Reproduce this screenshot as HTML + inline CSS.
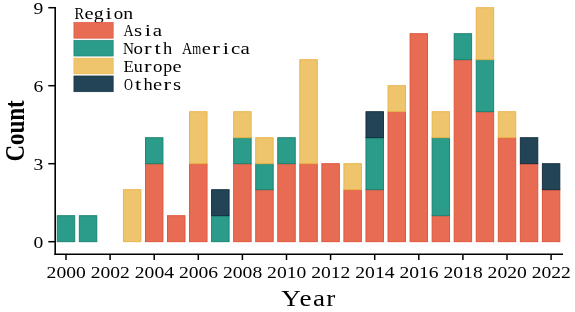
<!DOCTYPE html>
<html><head><meta charset="utf-8"><style>
html,body{margin:0;padding:0;background:#fff;width:575px;height:312px;overflow:hidden}
svg{display:block;will-change:transform}
.tk{font-family:"Liberation Serif",serif;font-size:17.2px;fill:#000}
.xl{font-family:"Liberation Serif",serif;font-size:24px;fill:#000}
.yl{font-family:"Liberation Serif",serif;font-size:23px;font-weight:bold;fill:#000}
.lg{font-family:"Liberation Serif",serif;font-size:16.2px;fill:#000}
</style></head><body>
<svg width="575" height="312" viewBox="0 0 575 312">
<rect x="57.25" y="215.70" width="17.50" height="26.00" fill="#2B9B8A" stroke="#14806F" stroke-width="0.9"/>
<rect x="79.30" y="215.70" width="17.50" height="26.00" fill="#2B9B8A" stroke="#14806F" stroke-width="0.9"/>
<rect x="123.40" y="189.70" width="17.50" height="52.00" fill="#EEC56C" stroke="#EAB245" stroke-width="0.9"/>
<rect x="145.45" y="163.70" width="17.50" height="78.00" fill="#E86C54" stroke="#DE5034" stroke-width="0.9"/>
<rect x="145.45" y="137.70" width="17.50" height="26.00" fill="#2B9B8A" stroke="#14806F" stroke-width="0.9"/>
<rect x="167.50" y="215.70" width="17.50" height="26.00" fill="#E86C54" stroke="#DE5034" stroke-width="0.9"/>
<rect x="189.55" y="163.70" width="17.50" height="78.00" fill="#E86C54" stroke="#DE5034" stroke-width="0.9"/>
<rect x="189.55" y="111.70" width="17.50" height="52.00" fill="#EEC56C" stroke="#EAB245" stroke-width="0.9"/>
<rect x="211.60" y="215.70" width="17.50" height="26.00" fill="#2B9B8A" stroke="#14806F" stroke-width="0.9"/>
<rect x="211.60" y="189.70" width="17.50" height="26.00" fill="#234457" stroke="#0F2A3A" stroke-width="0.9"/>
<rect x="233.65" y="163.70" width="17.50" height="78.00" fill="#E86C54" stroke="#DE5034" stroke-width="0.9"/>
<rect x="233.65" y="137.70" width="17.50" height="26.00" fill="#2B9B8A" stroke="#14806F" stroke-width="0.9"/>
<rect x="233.65" y="111.70" width="17.50" height="26.00" fill="#EEC56C" stroke="#EAB245" stroke-width="0.9"/>
<rect x="255.70" y="189.70" width="17.50" height="52.00" fill="#E86C54" stroke="#DE5034" stroke-width="0.9"/>
<rect x="255.70" y="163.70" width="17.50" height="26.00" fill="#2B9B8A" stroke="#14806F" stroke-width="0.9"/>
<rect x="255.70" y="137.70" width="17.50" height="26.00" fill="#EEC56C" stroke="#EAB245" stroke-width="0.9"/>
<rect x="277.75" y="163.70" width="17.50" height="78.00" fill="#E86C54" stroke="#DE5034" stroke-width="0.9"/>
<rect x="277.75" y="137.70" width="17.50" height="26.00" fill="#2B9B8A" stroke="#14806F" stroke-width="0.9"/>
<rect x="299.80" y="163.70" width="17.50" height="78.00" fill="#E86C54" stroke="#DE5034" stroke-width="0.9"/>
<rect x="299.80" y="59.70" width="17.50" height="104.00" fill="#EEC56C" stroke="#EAB245" stroke-width="0.9"/>
<rect x="321.85" y="163.70" width="17.50" height="78.00" fill="#E86C54" stroke="#DE5034" stroke-width="0.9"/>
<rect x="343.90" y="189.70" width="17.50" height="52.00" fill="#E86C54" stroke="#DE5034" stroke-width="0.9"/>
<rect x="343.90" y="163.70" width="17.50" height="26.00" fill="#EEC56C" stroke="#EAB245" stroke-width="0.9"/>
<rect x="365.95" y="189.70" width="17.50" height="52.00" fill="#E86C54" stroke="#DE5034" stroke-width="0.9"/>
<rect x="365.95" y="137.70" width="17.50" height="52.00" fill="#2B9B8A" stroke="#14806F" stroke-width="0.9"/>
<rect x="365.95" y="111.70" width="17.50" height="26.00" fill="#234457" stroke="#0F2A3A" stroke-width="0.9"/>
<rect x="388.00" y="111.70" width="17.50" height="130.00" fill="#E86C54" stroke="#DE5034" stroke-width="0.9"/>
<rect x="388.00" y="85.70" width="17.50" height="26.00" fill="#EEC56C" stroke="#EAB245" stroke-width="0.9"/>
<rect x="410.05" y="33.70" width="17.50" height="208.00" fill="#E86C54" stroke="#DE5034" stroke-width="0.9"/>
<rect x="432.10" y="215.70" width="17.50" height="26.00" fill="#E86C54" stroke="#DE5034" stroke-width="0.9"/>
<rect x="432.10" y="137.70" width="17.50" height="78.00" fill="#2B9B8A" stroke="#14806F" stroke-width="0.9"/>
<rect x="432.10" y="111.70" width="17.50" height="26.00" fill="#EEC56C" stroke="#EAB245" stroke-width="0.9"/>
<rect x="454.15" y="59.70" width="17.50" height="182.00" fill="#E86C54" stroke="#DE5034" stroke-width="0.9"/>
<rect x="454.15" y="33.70" width="17.50" height="26.00" fill="#2B9B8A" stroke="#14806F" stroke-width="0.9"/>
<rect x="476.20" y="111.70" width="17.50" height="130.00" fill="#E86C54" stroke="#DE5034" stroke-width="0.9"/>
<rect x="476.20" y="59.70" width="17.50" height="52.00" fill="#2B9B8A" stroke="#14806F" stroke-width="0.9"/>
<rect x="476.20" y="7.70" width="17.50" height="52.00" fill="#EEC56C" stroke="#EAB245" stroke-width="0.9"/>
<rect x="498.25" y="137.70" width="17.50" height="104.00" fill="#E86C54" stroke="#DE5034" stroke-width="0.9"/>
<rect x="498.25" y="111.70" width="17.50" height="26.00" fill="#EEC56C" stroke="#EAB245" stroke-width="0.9"/>
<rect x="520.30" y="163.70" width="17.50" height="78.00" fill="#E86C54" stroke="#DE5034" stroke-width="0.9"/>
<rect x="520.30" y="137.70" width="17.50" height="26.00" fill="#234457" stroke="#0F2A3A" stroke-width="0.9"/>
<rect x="542.35" y="189.70" width="17.50" height="52.00" fill="#E86C54" stroke="#DE5034" stroke-width="0.9"/>
<rect x="542.35" y="163.70" width="17.50" height="26.00" fill="#234457" stroke="#0F2A3A" stroke-width="0.9"/>
<line x1="55.2" y1="7.0" x2="55.2" y2="254.95" stroke="#000" stroke-width="1.6"/>
<line x1="54.400000000000006" y1="254.2" x2="563" y2="254.2" stroke="#000" stroke-width="1.4"/>
<line x1="48.3" y1="241.70" x2="55.2" y2="241.70" stroke="#000" stroke-width="1.5"/>
<text x="0" y="0" class="tk" text-anchor="end" transform="translate(43.4 247.70) scale(1.14 1)">0</text>
<line x1="48.3" y1="163.70" x2="55.2" y2="163.70" stroke="#000" stroke-width="1.5"/>
<text x="0" y="0" class="tk" text-anchor="end" transform="translate(43.4 169.70) scale(1.14 1)">3</text>
<line x1="48.3" y1="85.70" x2="55.2" y2="85.70" stroke="#000" stroke-width="1.5"/>
<text x="0" y="0" class="tk" text-anchor="end" transform="translate(43.4 91.70) scale(1.14 1)">6</text>
<line x1="48.3" y1="7.70" x2="55.2" y2="7.70" stroke="#000" stroke-width="1.5"/>
<text x="0" y="0" class="tk" text-anchor="end" transform="translate(43.4 13.70) scale(1.14 1)">9</text>
<line x1="66.00" y1="254.2" x2="66.00" y2="260.0" stroke="#000" stroke-width="1.5"/>
<text x="0" y="0" class="tk" text-anchor="middle" transform="translate(66.20 277.6) scale(1.14 1)">2000</text>
<line x1="110.10" y1="254.2" x2="110.10" y2="260.0" stroke="#000" stroke-width="1.5"/>
<text x="0" y="0" class="tk" text-anchor="middle" transform="translate(110.30 277.6) scale(1.14 1)">2002</text>
<line x1="154.20" y1="254.2" x2="154.20" y2="260.0" stroke="#000" stroke-width="1.5"/>
<text x="0" y="0" class="tk" text-anchor="middle" transform="translate(154.40 277.6) scale(1.14 1)">2004</text>
<line x1="198.30" y1="254.2" x2="198.30" y2="260.0" stroke="#000" stroke-width="1.5"/>
<text x="0" y="0" class="tk" text-anchor="middle" transform="translate(198.50 277.6) scale(1.14 1)">2006</text>
<line x1="242.40" y1="254.2" x2="242.40" y2="260.0" stroke="#000" stroke-width="1.5"/>
<text x="0" y="0" class="tk" text-anchor="middle" transform="translate(242.60 277.6) scale(1.14 1)">2008</text>
<line x1="286.50" y1="254.2" x2="286.50" y2="260.0" stroke="#000" stroke-width="1.5"/>
<text x="0" y="0" class="tk" text-anchor="middle" transform="translate(286.70 277.6) scale(1.14 1)">2010</text>
<line x1="330.60" y1="254.2" x2="330.60" y2="260.0" stroke="#000" stroke-width="1.5"/>
<text x="0" y="0" class="tk" text-anchor="middle" transform="translate(330.80 277.6) scale(1.14 1)">2012</text>
<line x1="374.70" y1="254.2" x2="374.70" y2="260.0" stroke="#000" stroke-width="1.5"/>
<text x="0" y="0" class="tk" text-anchor="middle" transform="translate(374.90 277.6) scale(1.14 1)">2014</text>
<line x1="418.80" y1="254.2" x2="418.80" y2="260.0" stroke="#000" stroke-width="1.5"/>
<text x="0" y="0" class="tk" text-anchor="middle" transform="translate(419.00 277.6) scale(1.14 1)">2016</text>
<line x1="462.90" y1="254.2" x2="462.90" y2="260.0" stroke="#000" stroke-width="1.5"/>
<text x="0" y="0" class="tk" text-anchor="middle" transform="translate(463.10 277.6) scale(1.14 1)">2018</text>
<line x1="507.00" y1="254.2" x2="507.00" y2="260.0" stroke="#000" stroke-width="1.5"/>
<text x="0" y="0" class="tk" text-anchor="middle" transform="translate(507.20 277.6) scale(1.14 1)">2020</text>
<line x1="551.10" y1="254.2" x2="551.10" y2="260.0" stroke="#000" stroke-width="1.5"/>
<text x="0" y="0" class="tk" text-anchor="middle" transform="translate(551.30 277.6) scale(1.14 1)">2022</text>
<text x="309" y="306.4" class="xl" text-anchor="middle" letter-spacing="1.2" transform="translate(309 0) scale(1.13 1) translate(-309 0)">Year</text>
<text class="yl" text-anchor="middle" transform="translate(23.7 130.9) scale(1.15 1) rotate(-90)">Count</text>
<text class="lg" transform="translate(79.38 18.60) scale(0.892 1)" x="-5.62" y="0">R</text>
<text class="lg" transform="translate(89.12 18.60) scale(1.268 1)" x="-3.63" y="0">e</text>
<text class="lg" transform="translate(98.88 18.60) scale(1.226 1)" x="-4.24" y="0">g</text>
<text class="lg" transform="translate(108.62 18.60) scale(1.400 1)" x="-2.27" y="0">i</text>
<text class="lg" transform="translate(118.38 18.60) scale(1.165 1)" x="-4.05" y="0">o</text>
<text class="lg" transform="translate(128.12 18.60) scale(1.216 1)" x="-4.11" y="0">n</text>
<rect x="73.9" y="22.40" width="39.3" height="15.8" fill="#E86C54" stroke="#DE5034" stroke-width="0.6"/>
<text class="lg" transform="translate(128.47 36.30) scale(0.867 1)" x="-5.87" y="0">A</text>
<text class="lg" transform="translate(138.22 36.30) scale(1.286 1)" x="-3.19" y="0">s</text>
<text class="lg" transform="translate(147.97 36.30) scale(1.400 1)" x="-2.27" y="0">i</text>
<text class="lg" transform="translate(157.72 36.30) scale(1.297 1)" x="-3.77" y="0">a</text>
<rect x="73.9" y="40.25" width="39.3" height="15.8" fill="#2B9B8A" stroke="#14806F" stroke-width="0.6"/>
<text class="lg" transform="translate(128.47 54.15) scale(0.939 1)" x="-5.90" y="0">N</text>
<text class="lg" transform="translate(138.22 54.15) scale(1.165 1)" x="-4.05" y="0">o</text>
<text class="lg" transform="translate(147.97 54.15) scale(1.400 1)" x="-2.79" y="0">r</text>
<text class="lg" transform="translate(157.72 54.15) scale(1.400 1)" x="-2.28" y="0">t</text>
<text class="lg" transform="translate(167.47 54.15) scale(1.139 1)" x="-4.02" y="0">h</text>
<text class="lg" transform="translate(186.97 54.15) scale(0.867 1)" x="-5.87" y="0">A</text>
<text class="lg" transform="translate(196.72 54.15) scale(0.708 1)" x="-6.34" y="0">m</text>
<text class="lg" transform="translate(206.47 54.15) scale(1.268 1)" x="-3.63" y="0">e</text>
<text class="lg" transform="translate(216.22 54.15) scale(1.400 1)" x="-2.79" y="0">r</text>
<text class="lg" transform="translate(225.97 54.15) scale(1.400 1)" x="-2.27" y="0">i</text>
<text class="lg" transform="translate(235.72 54.15) scale(1.284 1)" x="-3.65" y="0">c</text>
<text class="lg" transform="translate(245.47 54.15) scale(1.297 1)" x="-3.77" y="0">a</text>
<rect x="73.9" y="58.10" width="39.3" height="15.8" fill="#EEC56C" stroke="#EAB245" stroke-width="0.6"/>
<text class="lg" transform="translate(128.47 72.00) scale(1.044 1)" x="-4.78" y="0">E</text>
<text class="lg" transform="translate(138.22 72.00) scale(1.117 1)" x="-4.02" y="0">u</text>
<text class="lg" transform="translate(147.97 72.00) scale(1.400 1)" x="-2.79" y="0">r</text>
<text class="lg" transform="translate(157.72 72.00) scale(1.165 1)" x="-4.05" y="0">o</text>
<text class="lg" transform="translate(167.47 72.00) scale(1.096 1)" x="-3.86" y="0">p</text>
<text class="lg" transform="translate(177.22 72.00) scale(1.268 1)" x="-3.63" y="0">e</text>
<rect x="73.9" y="75.95" width="39.3" height="15.8" fill="#234457" stroke="#0F2A3A" stroke-width="0.6"/>
<text class="lg" transform="translate(128.47 89.85) scale(0.762 1)" x="-5.85" y="0">O</text>
<text class="lg" transform="translate(138.22 89.85) scale(1.400 1)" x="-2.28" y="0">t</text>
<text class="lg" transform="translate(147.97 89.85) scale(1.139 1)" x="-4.02" y="0">h</text>
<text class="lg" transform="translate(157.72 89.85) scale(1.268 1)" x="-3.63" y="0">e</text>
<text class="lg" transform="translate(167.47 89.85) scale(1.400 1)" x="-2.79" y="0">r</text>
<text class="lg" transform="translate(177.22 89.85) scale(1.286 1)" x="-3.19" y="0">s</text>
</svg>
</body></html>
